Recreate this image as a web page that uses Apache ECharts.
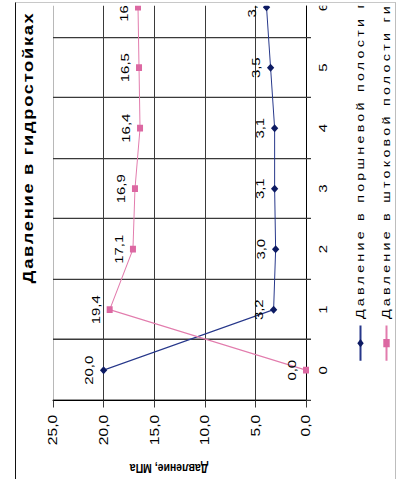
<!DOCTYPE html>
<html>
<head>
<meta charset="utf-8">
<title>Давление в гидростойках</title>
<script src="https://cdn.jsdelivr.net/npm/echarts@6/dist/echarts.min.js"></script>
<style>
  html, body { margin: 0; padding: 0; background: #fff; width: 398px; height: 479px; overflow: hidden; }
  /* outer frame of the chart area */
  #frame {
    position: absolute; left: 15px; top: 2px; width: 381px; height: 480px;
    box-sizing: border-box;
    border-left: 1px solid #111; border-top: 1px solid #c8c8c8; border-right: 1px solid #bdbdbd;
  }
  /* the chart is laid out landscape, then turned a quarter turn counter-clockwise
     and stretched along its category direction */
  #chart {
    position: absolute; left: 0; top: 0;
    width: 363.8px; height: 398px;
    transform-origin: 0 0;
    transform: translate(0, 479px) rotate(-90deg) scaleX(1.3);
    overflow: hidden;
  }
</style>
</head>
<body>
<div id="frame"></div>
<div id="chart"></div>
<script>
// ---- data ----
const titleText = 'Давление в гидростойках';
const valueAxisName = 'Давление, МПа';
const categories = ['0', '1', '2', '3', '4', '5', '6'];
const seriesNames = [
  'Давление в поршневой полости гидростоек',
  'Давление в штоковой полости гидростоек'
];
const pistonPressure = [20.0, 3.2, 3.0, 3.1, 3.1, 3.5, 3.9];
const rodPressure = [0.0, 19.4, 17.1, 16.9, 16.4, 16.5, 16.6];
const valueTicks = [0, 5, 10, 15, 20, 25];

// ---- styling ----
const FONT = '"Liberation Sans", Arial, sans-serif';
const fmt = v => Number(v).toFixed(1).replace('.', ',');
const GRID_DARK = '#3a3a3a';

const chart = echarts.init(document.getElementById('chart'), null, { renderer: 'svg' });

const option = {
  animation: false,
  backgroundColor: 'transparent',
  textStyle: { fontFamily: FONT, color: '#000' },
  title: {
    text: titleText,
    left: 255,
    top: 21,
    textAlign: 'center',
    padding: 0,
    textStyle: { fontFamily: FONT, fontSize: 14, fontWeight: 'bold', color: '#000' }
  },
  legend: {
    orient: 'vertical',
    left: 90,
    top: 355,
    padding: 0,
    itemWidth: 27,
    itemHeight: 8,
    itemGap: 15,
    data: seriesNames,
    textStyle: { fontFamily: FONT, fontSize: 11, color: '#000' }
  },
  grid: {
    left: 60.4,
    top: 53,
    width: 325.8,
    height: 253,
    outerBoundsMode: 'none',
    containLabel: false
  },
  xAxis: {
    type: 'category',
    data: categories,
    boundaryGap: true,
    axisLine: { show: true, lineStyle: { color: '#000', width: 1 } },
    axisTick: { show: true, inside: false, length: 5, interval: 0, lineStyle: { color: GRID_DARK } },
    axisLabel: { show: true, interval: 0, margin: 11, fontFamily: FONT, fontSize: 11.5, color: '#000' },
    splitLine: { show: true, interval: 0, lineStyle: { color: GRID_DARK, width: 1 } }
  },
  yAxis: {
    type: 'value',
    min: valueTicks[0],
    max: valueTicks[valueTicks.length - 1],
    interval: valueTicks[1] - valueTicks[0],
    name: valueAxisName,
    nameLocation: 'middle',
    nameRotate: 90,
    nameGap: 46.5,
    nameTextStyle: { fontFamily: FONT, fontSize: 10.5, fontWeight: 'bold', color: '#000', padding: [0, 0, 0, 21] },
    axisLine: { show: true, lineStyle: { color: '#000', width: 1 } },
    axisTick: { show: true, inside: false, length: 5.4, lineStyle: { color: GRID_DARK } },
    axisLabel: { show: true, margin: 11, fontFamily: FONT, fontSize: 12, color: '#000', formatter: v => fmt(v) },
    splitLine: {
      show: true,
      lineStyle: { color: ['#000', GRID_DARK, GRID_DARK, GRID_DARK, GRID_DARK, '#b8b8b8'], width: 1 }
    }
  },
  series: [
    {
      name: seriesNames[0],
      type: 'line',
      data: pistonPressure,
      symbol: 'diamond',
      symbolSize: [6.2, 7.3],
      showAllSymbol: true,
      lineStyle: { color: '#26378a', width: 1 },
      itemStyle: { color: '#0d1b63' },
      label: { show: true, position: 'top', distance: 5, fontFamily: FONT, fontSize: 11.5, color: '#000', formatter: p => fmt(p.value) },
      emphasis: { disabled: true },
      z: 3
    },
    {
      name: seriesNames[1],
      type: 'line',
      data: rodPressure,
      symbol: 'rect',
      symbolSize: [5.2, 6],
      showAllSymbol: true,
      lineStyle: { color: '#e27cad', width: 1 },
      itemStyle: { color: '#dc68a2' },
      label: { show: true, position: 'top', distance: 5, fontFamily: FONT, fontSize: 11.5, color: '#000', formatter: p => fmt(p.value) },
      emphasis: { disabled: true },
      z: 3
    }
  ]
};

chart.setOption(option);

// widen the tracking of the title and legend captions
const tracking = {};
tracking[titleText] = 1.35;
tracking[seriesNames[0]] = 2.5;
tracking[seriesNames[1]] = 2.5;
function applyTracking() {
  chart.getDom().querySelectorAll('text').forEach(t => {
    const k = t.textContent;
    if (tracking[k] != null) t.style.letterSpacing = tracking[k] + 'px';
  });
}
applyTracking();
chart.on('finished', applyTracking);
</script>
</body>
</html>
